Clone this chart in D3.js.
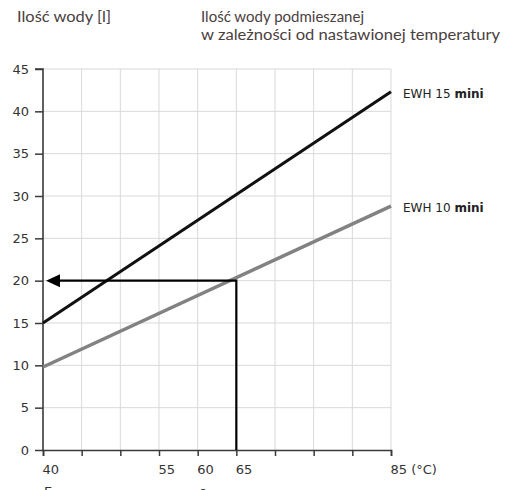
<!DOCTYPE html>
<html>
<head>
<meta charset="utf-8">
<script src="https://cdn.jsdelivr.net/npm/d3@7"></script>
<style>
  body { margin: 0; background: #fff; }
</style>
</head>
<body>
<div id="chart"></div>
<script>
// data
var temps = [40, 85];
var ewh15 = [15, 42.3];
var ewh10 = [9.8, 28.8];
var seriesNames = ["EWH 15 ", "EWH 10 "];
var yTicks = [0, 5, 10, 15, 20, 25, 30, 35, 40, 45];
var xTicks = [40, 45, 50, 55, 60, 65, 70, 75, 80, 85];
var xLabels = ["40", "", "", "55", "60", "65", "", "", "", "85 (\u00B0C)"];
var readT = 65, readV = 20;

var W = 506, H = 490;
var svg = d3.select("#chart").append("svg").attr("width", W).attr("height", H)
  .style("font-family", "'DejaVu Sans', Verdana, sans-serif");

var x = d3.scaleLinear().domain([40, 85]).range([43, 391]);
var y = d3.scaleLinear().domain([0, 45]).range([450, 69]);

// titles
function title(tx, ty, len, s) {
  svg.append("text").attr("x", tx).attr("y", ty)
    .style("font-family", "Lato, sans-serif")
    .attr("font-size", 14.5).attr("fill", "#4a4040")
    .attr("textLength", len).attr("lengthAdjust", "spacingAndGlyphs")
    .text(s);
}
title(17, 22, 94, "Ilość wody [l]");
title(201, 22, 163, "Ilość wody podmieszanej");
title(201, 40, 299, "w zależności od nastawionej temperatury");

// grid
svg.append("g").selectAll("line").data(xTicks.slice(1)).join("line")
  .attr("x1", d => x(d)).attr("x2", d => x(d))
  .attr("y1", y(45)).attr("y2", y(0))
  .attr("stroke", "#d9d9d9").attr("stroke-width", 1);
svg.append("g").selectAll("line").data(yTicks.slice(1)).join("line")
  .attr("x1", x(40)).attr("x2", x(85))
  .attr("y1", d => y(d)).attr("y2", d => y(d))
  .attr("stroke", "#d9d9d9").attr("stroke-width", 1);

// axes
var yAxis = svg.append("g").attr("transform", "translate(" + x(40) + ",0)")
  .call(d3.axisLeft(y).tickValues(yTicks).tickSize(8).tickPadding(6));
var xAxis = svg.append("g").attr("transform", "translate(0," + y(0) + ")")
  .call(d3.axisBottom(x).tickValues(xTicks).tickSize(6).tickPadding(6)
    .tickFormat((d, i) => xLabels[i]));
[yAxis, xAxis].forEach(function(g) {
  g.attr("font-family", null);
  g.select(".domain").attr("stroke", "#3a3a3a").attr("stroke-width", 1.6);
  g.selectAll(".tick line").attr("stroke", "#3a3a3a").attr("stroke-width", 1.5);
  g.selectAll("text").attr("font-size", 13).attr("fill", "#333");
});
yAxis.attr("font-size", 13);
xAxis.attr("font-size", 13);
yAxis.select(".domain").attr("d", "M0," + y(0) + "V" + y(45) + "H-8");
xAxis.selectAll(".tick text").attr("text-anchor", "start").attr("dx", -1).attr("dy", "0.9em");

// lines
var line = d3.line().x(d => x(d[0])).y(d => y(d[1]));
svg.append("path").datum(temps.map((t, i) => [t, ewh10[i]]))
  .attr("d", line).attr("stroke", "#828282").attr("stroke-width", 3.5).attr("fill", "none");
svg.append("path").datum(temps.map((t, i) => [t, ewh15[i]]))
  .attr("d", line).attr("stroke", "#111").attr("stroke-width", 3).attr("fill", "none");

// reading lines
svg.append("path")
  .attr("d", "M" + x(readT) + "," + y(0) + "V" + y(readV) + "H" + (x(40) + 16))
  .attr("stroke", "#000").attr("stroke-width", 2.2).attr("fill", "none");
svg.append("path")
  .attr("d", "M" + (x(40) + 3) + "," + y(readV) + "l14,-6.5v13z")
  .attr("fill", "#000");

// series labels
[[ewh15, seriesNames[0]], [ewh10, seriesNames[1]]].forEach(function(s) {
  var t = svg.append("text").attr("x", 403).attr("y", y(s[0][1]) + 6)
    .attr("font-size", 12).attr("fill", "#222");
  t.append("tspan").text(s[1]);
  t.append("tspan").attr("font-weight", "bold").text("mini");
});

// letters cut by the bottom edge, as in the source
svg.append("text").attr("x", 44).attr("y", 496).attr("font-size", 13).attr("fill", "#333").text("E");
svg.append("text").attr("x", 199).attr("y", 496).attr("font-size", 13).attr("fill", "#333").text("e");
</script>
</body>
</html>
